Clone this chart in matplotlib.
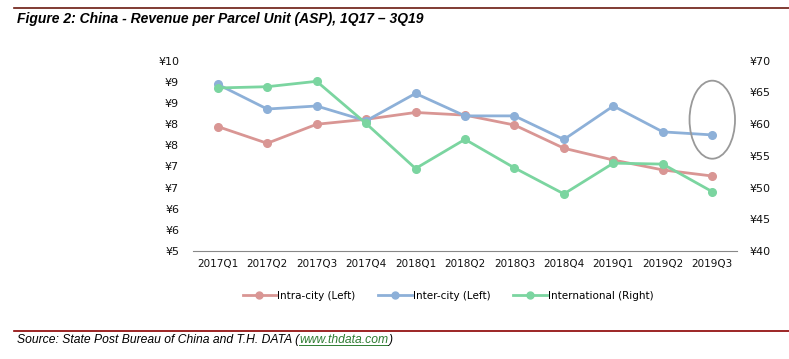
import matplotlib.pyplot as plt
import numpy as np
from matplotlib.lines import Line2D
from matplotlib.patches import Ellipse
from matplotlib.ticker import FuncFormatter

quarters = ["2017Q1", "2017Q2", "2017Q3", "2017Q4", "2018Q1", "2018Q2",
            "2018Q3", "2018Q4", "2019Q1", "2019Q2", "2019Q3"]
intra_city = [8.27, 7.83, 8.33, 8.46, 8.64, 8.57, 8.31, 7.70, 7.39, 7.13, 6.97]
inter_city = [9.38, 8.73, 8.81, 8.42, 9.14, 8.55, 8.55, 7.93, 8.81, 8.13, 8.05]
international = [65.7, 65.9, 66.75, 60.1, 53.0, 57.6, 53.1, 49.0, 53.85, 53.7, 49.35]

RED = "#D99694"
BLUE = "#8DB0D8"
GREEN = "#7BD5A0"
tick_font = 7.5

fig = plt.figure(figsize=(7.89, 3.59), dpi=100)
ax = fig.add_axes([193 / 789, 1 - 251 / 359, (737 - 193) / 789, (251 - 60.7) / 359])
ax2 = ax.twinx()

x = np.arange(len(quarters))
ax.plot(x, intra_city, color=RED, lw=2.0, marker="o", ms=5.5, zorder=3)
ax.plot(x, inter_city, color=BLUE, lw=2.0, marker="o", ms=5.5, zorder=3)
ax2.plot(x, international, color=GREEN, lw=2.0, marker="o", ms=5.5, zorder=3)

ax.set_xlim(-0.5, len(quarters) - 0.5)
ax.set_ylim(5, 10)
ax2.set_ylim(40, 70)
ax.set_yticks(np.linspace(5, 10, 10))
ax2.set_yticks(np.arange(40, 71, 5))
yen = FuncFormatter(lambda v, p: "¥%d" % round(v))
ax.yaxis.set_major_formatter(yen)
ax2.yaxis.set_major_formatter(yen)
ax.set_xticks(x)
ax.set_xticklabels(quarters)

for a in (ax, ax2):
    for s in a.spines.values():
        s.set_visible(False)
    a.tick_params(length=0, labelsize=tick_font, colors="#111111")
ax.spines["bottom"].set_visible(True)
ax.spines["bottom"].set_color("#888888")
ax.tick_params(axis="y", pad=10, labelsize=8)
ax2.tick_params(axis="y", pad=9, labelsize=8)
ax.tick_params(axis="x", pad=6)

# highlight circle around the last inter-city point
ax.add_patch(Ellipse((10, 8.45), 0.92, 2.05, fill=False, ec="#999999", lw=1.3, zorder=4))

handles = [Line2D([], [], color=c, lw=2.0, marker="o", ms=5) for c in (RED, BLUE, GREEN)]
fig.legend(handles, ["Intra-city (Left)", "Inter-city (Left)", "International (Right)"],
           loc="center", bbox_to_anchor=(448 / 789, 1 - 296 / 359), ncol=3, frameon=False,
           fontsize=tick_font, handlelength=3.2, handletextpad=0.1, columnspacing=2.2)

fig.add_artist(Line2D([14 / 789, 1], [1 - 7.5 / 359] * 2, color="#6B1A10", lw=1.2))
fig.add_artist(Line2D([14 / 789, 1], [1 - 330.5 / 359] * 2, color="#8B0000", lw=1.2))
fig.text(17 / 789, 1 - 19 / 359, "Figure 2: China - Revenue per Parcel Unit (ASP), 1Q17 – 3Q19",
         family="Liberation Sans", weight="bold", style="italic", fontsize=10, va="center")
src = fig.text(17 / 789, 1 - 340 / 359, "Source: State Post Bureau of China and T.H. DATA (",
               family="Liberation Sans", style="italic", fontsize=8.7, va="center")
fig.canvas.draw()
bb = src.get_window_extent()
link = fig.text(bb.x1 / 789, 1 - 340 / 359, "www.thdata.com", family="Liberation Sans",
                style="italic", fontsize=8.7, va="center", color="#2E7D32")
bb2 = link.get_window_extent()
fig.add_artist(Line2D([bb2.x0 / 789, bb2.x1 / 789], [(bb2.y0 + 1) / 359] * 2, color="#2E7D32", lw=0.7))
fig.text(bb2.x1 / 789, 1 - 340 / 359, ")", family="Liberation Sans", style="italic",
         fontsize=8.7, va="center")

fig.savefig("out.png", dpi=100)
